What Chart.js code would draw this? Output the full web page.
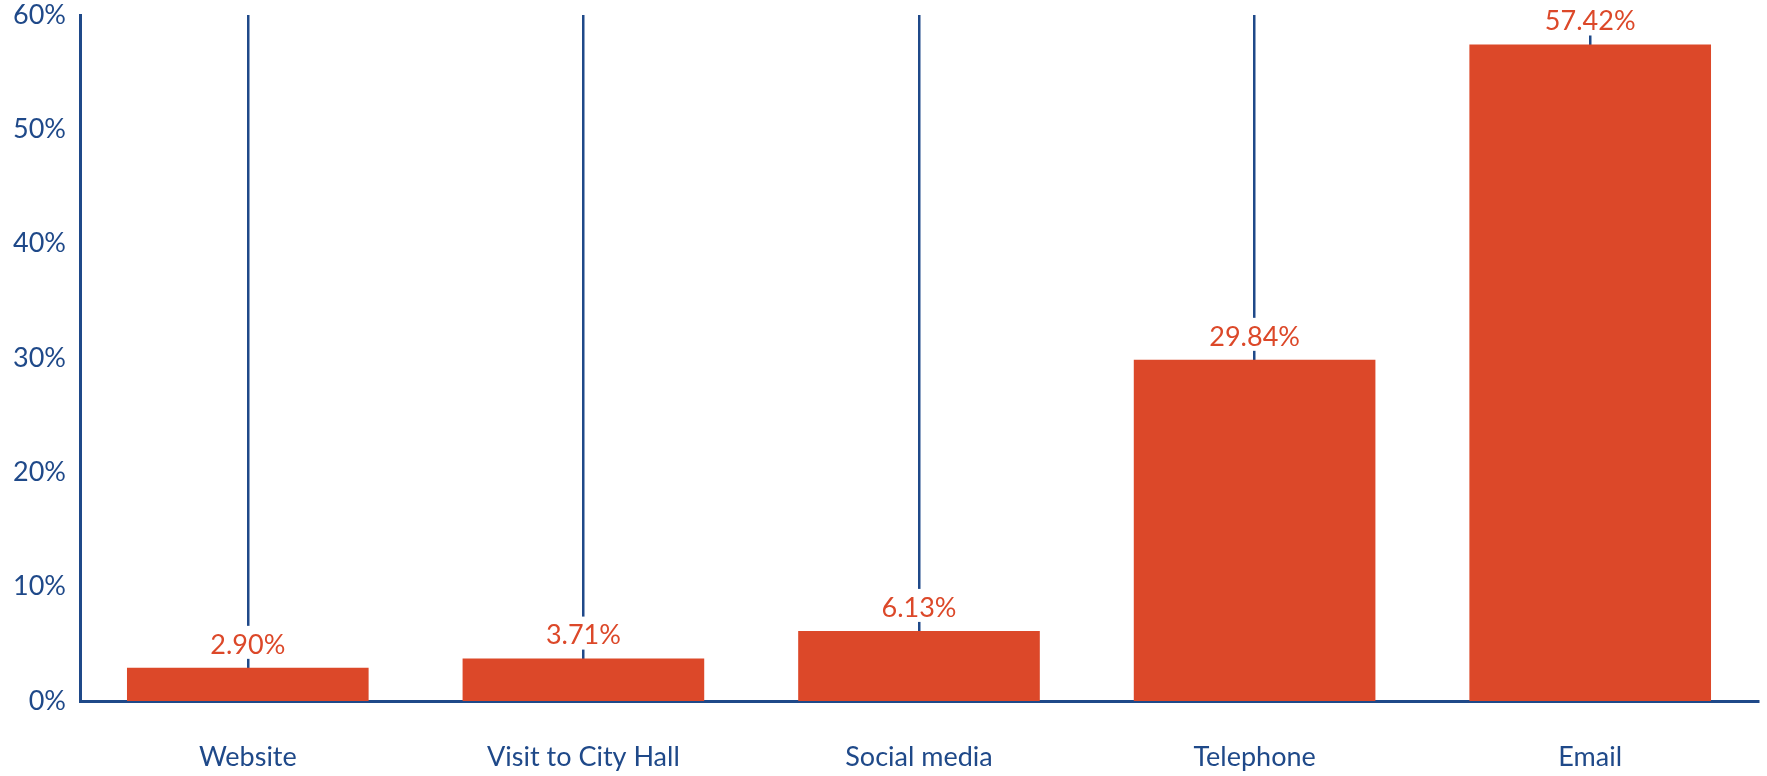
<!DOCTYPE html>
<html>
<head>
<meta charset="utf-8">
<script src="https://cdn.jsdelivr.net/npm/chart.js@4/dist/chart.umd.min.js"></script>
<style>
  html, body { margin: 0; padding: 0; background: #fff; }
  #wrap { width: 1767px; height: 776px; position: relative; }
</style>
</head>
<body>
<div id="wrap"><canvas id="chart"></canvas></div>
<script>
// data
const categories = ['Website', 'Visit to City Hall', 'Social media', 'Telephone', 'Email'];
const shares = [2.90, 3.71, 6.13, 29.84, 57.42];
const yTicks = [0, 10, 20, 30, 40, 50, 60];

const blue = 'rgb(31,73,137)';
const orange = 'rgb(220,72,41)';
const font = 'Lato, "Open Sans", sans-serif';

// value labels above bars, with a white box that breaks the grid line
const barLabels = {
  id: 'barLabels',
  afterDatasetsDraw(chart) {
    const ctx = chart.ctx;
    const meta = chart.getDatasetMeta(0);
    ctx.save();
    ctx.font = '27px ' + font;
    ctx.textAlign = 'center';
    ctx.textBaseline = 'middle';
    meta.data.forEach((bar, i) => {
      const txt = shares[i].toFixed(2) + '%';
      const w = ctx.measureText(txt).width + 10;
      ctx.fillStyle = '#fff';
      ctx.fillRect(bar.x - w / 2, bar.y - 42, w, 33);
      ctx.fillStyle = orange;
      ctx.fillText(txt, bar.x, bar.y - 23);
    });
    ctx.restore();
  }
};

new Chart(document.getElementById('chart').getContext('2d'), {
  type: 'bar',
  data: {
    labels: categories,
    datasets: [{
      data: shares,
      backgroundColor: orange,
      borderWidth: 0,
      categoryPercentage: 0.9,
      barPercentage: 0.8
    }]
  },
  options: {
    responsive: true,
    maintainAspectRatio: false,
    animation: false,
    layout: { padding: { top: 15, right: 9, left: 0, bottom: 0 } },
    plugins: { legend: { display: false }, tooltip: { enabled: false } },
    scales: {
      x: {
        grid: { offset: false, color: blue, lineWidth: 2.5, drawTicks: false },
        border: { display: true, color: blue, width: 3 },
        ticks: { color: blue, font: { family: font, size: 27 }, padding: 40, maxRotation: 0 },
        afterFit(s) { s.height = 75; }
      },
      y: {
        min: 0, max: 60,
        afterBuildTicks(s) { s.ticks = yTicks.map(v => ({ value: v })); },
        grid: { display: false, drawTicks: false },
        border: { display: true, color: blue, width: 3 },
        ticks: { color: blue, font: { family: font, size: 27 }, padding: 14, callback: v => v + '%' },
        afterFit(s) { s.width = 80; s.paddingTop = 0; s.paddingBottom = 0; }
      }
    }
  },
  plugins: [barLabels]
});
</script>
</body>
</html>
